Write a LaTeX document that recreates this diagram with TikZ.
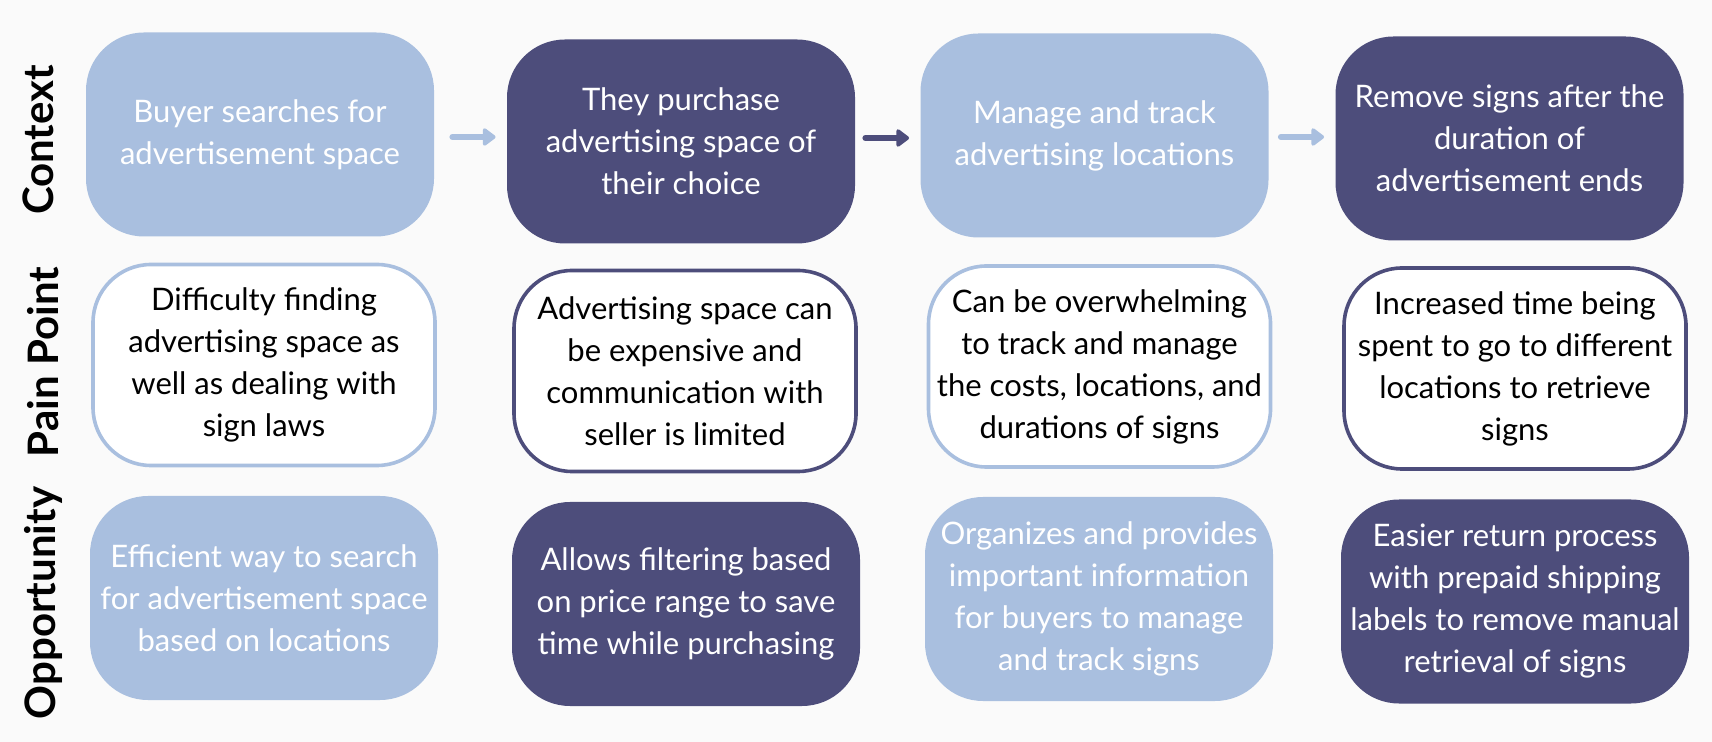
\documentclass[tikz,border=0pt]{standalone}
\usepackage{fontspec}
\setmainfont{Lato}
\usetikzlibrary{arrows.meta}
\definecolor{lightblue}{HTML}{A9BFDF}
\definecolor{darkblue}{HTML}{4D4D7B}
\definecolor{bgcol}{HTML}{FAFAFA}
\tikzset{
  card/.style={rounded corners=29pt, minimum width=174pt, minimum height=102pt,
    align=center, inner sep=0pt, font=\fontsize{15.5}{21}\selectfont},
  lightcard/.style={card, fill=lightblue, text=white},
  darkcard/.style={card, fill=darkblue, text=white},
  lightline/.style={card, draw=lightblue, line width=1.8pt, fill=white, text=black,
    minimum width=171pt, minimum height=100.5pt},
  darkline/.style={card, draw=darkblue, line width=1.8pt, fill=white, text=black,
    minimum width=171pt, minimum height=100.5pt},
  rowlabel/.style={rotate=90, font=\fontsize{21}{24}\selectfont\bfseries, text=black, inner sep=0pt},
  flowarrow/.style={line width=3pt, line cap=round, -{Triangle[width=10pt,length=7pt,round]}},
}
\begin{document}
\begin{tikzpicture}[x=0.5pt,y=-0.5pt]
\fill[bgcol] (0,0) rectangle (1712,742);
\useasboundingbox (0,0) rectangle (1712,742);
% row labels
\node[rowlabel] (lctx) at (38,140) {Context};
\node[rowlabel] (lpain) at (43,362) {Pain Point};
\node[rowlabel] (lopp) at (43,603) {Opportunity};
% context row
\node[lightcard] (c1) at (260,134.5) {Buyer searches for\\advertisement space};
\node[darkcard]  (c2) at (681,141.5) {They purchase\\advertising space of\\their choice};
\node[lightcard] (c3) at (1094.5,135.5) {Manage and track\\advertising locations};
\node[darkcard]  (c4) at (1509.5,138.5) {Remove signs after the\\duration of\\advertisement ends};
% pain row
\node[lightline] (p1) at (264,365) {Difficulty finding\\advertising space as\\well as dealing with\\sign laws};
\node[darkline]  (p2) at (685,371) {Advertising space can\\be expensive and\\communication with\\seller is limited};
\node[lightline] (p3) at (1099.5,366.5) {Can be overwhelming\\to track and manage\\the costs, locations, and\\durations of signs};
\node[darkline]  (p4) at (1515,368.5) {Increased time being\\spent to go to different\\locations to retrieve\\signs};
% opportunity row
\node[lightcard] (o1) at (264,598) {Efficient way to search\\for advertisement space\\based on locations};
\node[darkcard]  (o2) at (686,604) {Allows filtering based\\on price range to save\\time while purchasing};
\node[lightcard] (o3) at (1099,599) {Organizes and provides\\important information\\for buyers to manage\\and track signs};
\node[darkcard]  (o4) at (1515,601.5) {Easier return process\\with prepaid shipping\\labels to remove manual\\retrieval of signs};
% arrows
\coordinate (r1) at (0,137);
\coordinate (r2) at (0,138);
\draw[flowarrow, draw=lightblue, shorten <=9pt, shorten >=5.5pt] (c1.east |- r1) -- (c2.west |- r1);
\draw[flowarrow, draw=darkblue, shorten <=5pt, shorten >=5.5pt] (c2.east |- r2) -- (c3.west |- r2);
\draw[flowarrow, draw=lightblue, shorten <=6pt, shorten >=5.5pt] (c3.east |- r1) -- (c4.west |- r1);
\end{tikzpicture}
\end{document}
